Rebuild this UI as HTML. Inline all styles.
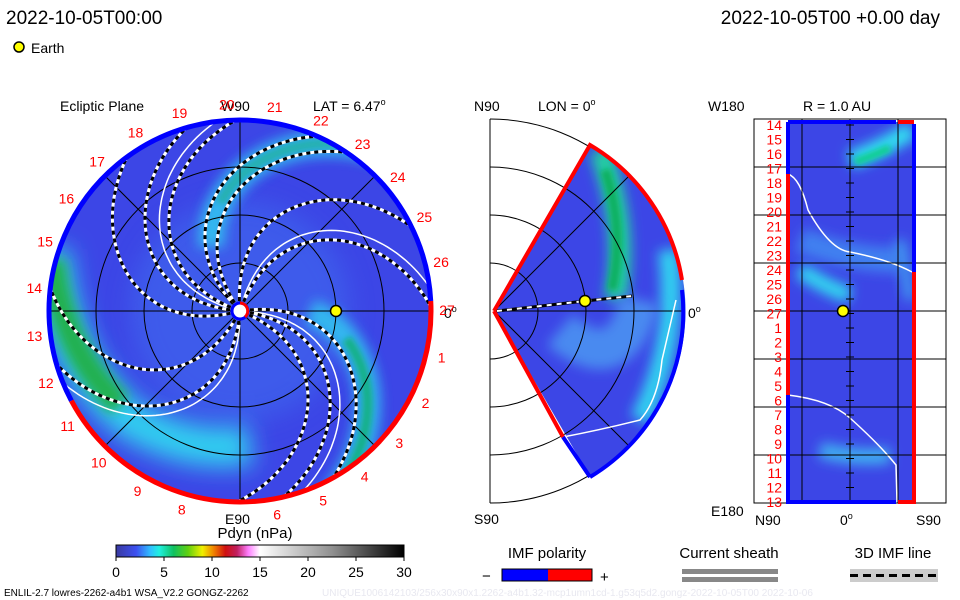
<!DOCTYPE html>
<html><head><meta charset="utf-8"><style>
body{margin:0;background:#fff;}
svg{display:block;font-family:"Liberation Sans",sans-serif;}
</style></head><body>
<svg id="s" width="960" height="600" viewBox="0 0 960 600">
<defs>
<filter id="bl" filterUnits="userSpaceOnUse" x="0" y="0" width="960" height="600"><feGaussianBlur stdDeviation="6"/></filter>
<filter id="bl2" filterUnits="userSpaceOnUse" x="0" y="0" width="960" height="600"><feGaussianBlur stdDeviation="3"/></filter>
<filter id="bl3" filterUnits="userSpaceOnUse" x="0" y="0" width="960" height="600"><feGaussianBlur stdDeviation="12"/></filter>
<clipPath id="diskClip"><circle cx="240" cy="311" r="191"/></clipPath>
<clipPath id="wedgeClip"><path d="M494,311 L590,145 A192,192 0 0 1 590,477 Z"/></clipPath>
<clipPath id="rectClip"><rect x="786" y="122" width="128" height="380"/></clipPath>
<linearGradient id="cbar" x1="0" x2="1">
<stop offset="0" stop-color="#3a3aa0"/><stop offset="0.07" stop-color="#3c50f0"/><stop offset="0.12" stop-color="#30c0ff"/><stop offset="0.15" stop-color="#20f0e0"/><stop offset="0.2" stop-color="#10c060"/><stop offset="0.25" stop-color="#60d010"/><stop offset="0.3" stop-color="#f0f000"/><stop offset="0.34" stop-color="#f08000"/><stop offset="0.38" stop-color="#d01010"/><stop offset="0.42" stop-color="#c02060"/><stop offset="0.46" stop-color="#ff80ff"/><stop offset="0.5" stop-color="#ffffff"/><stop offset="0.75" stop-color="#909090"/><stop offset="1" stop-color="#000"/>
</linearGradient>
</defs>

<text x="6" y="24" font-size="19">2022-10-05T00:00</text>
<text x="940" y="24" font-size="19" text-anchor="end">2022-10-05T00 +0.00 day</text>
<circle cx="19" cy="47" r="5" fill="#ff0" stroke="#000" stroke-width="1.5"/>
<text x="31" y="53" font-size="14">Earth</text>

<g>
<circle cx="240" cy="311" r="191" fill="#3c46e6"/>
<g clip-path="url(#diskClip)">
<circle cx="240" cy="311" r="110" fill="#4070f0" opacity="0.5" filter="url(#bl3)"/>
<path d="M50,250 Q58,360 130,420 Q190,455 250,445" stroke="#30d0f0" stroke-width="40" fill="none" filter="url(#bl3)"/>
<path d="M52,260 Q62,350 120,405" stroke="#20b050" stroke-width="26" fill="none" filter="url(#bl)"/>
</g>
<g clip-path="url(#diskClip)" id="diskBands"></g>
<g clip-path="url(#diskClip)" id="diskGrid" stroke="#000" stroke-width="1" fill="none">
<circle cx="240" cy="311" r="48"/><circle cx="240" cy="311" r="96"/><circle cx="240" cy="311" r="144"/>
<line x1="47" y1="311" x2="434" y2="311"/><line x1="240" y1="118" x2="240" y2="504"/>
<line x1="104" y1="175" x2="376" y2="447"/><line x1="104" y1="447" x2="376" y2="175"/>
</g>
<g clip-path="url(#diskClip)" id="diskArms"></g>
<g id="rim"></g>
<circle cx="240" cy="311" r="8" fill="#fff" stroke="#00f" stroke-width="3"/>
<path d="M240,303 A8,8 0 0 1 245,317" fill="none" stroke="#f00" stroke-width="3"/>
<circle cx="336" cy="311" r="5.5" fill="#ff0" stroke="#000" stroke-width="1.5"/>
<text x="60" y="111" font-size="14">Ecliptic Plane</text>
<text x="221" y="111" font-size="14">W90</text>
<text x="313" y="111" font-size="14">LAT = 6.47<tspan font-size="9" dy="-6">o</tspan></text>
<text x="444" y="318" font-size="14">0<tspan font-size="9" dy="-6">o</tspan></text>
<text x="225" y="524" font-size="14">E90</text>
<g id="dayLabels" fill="#f00" font-size="14" text-anchor="middle"></g>
</g>

<g>
<g fill="none" stroke="#000" stroke-width="1">
<line x1="490" y1="119" x2="490" y2="503"/>
<path d="M490,263 A48,48 0 0 1 490,359"/><path d="M490,215 A96,96 0 0 1 490,407"/>
<path d="M490,167 A144,144 0 0 1 490,455"/><path d="M490,119 A192,192 0 0 1 490,503"/>
</g>
<path d="M494,311 L590,145 A192,192 0 0 1 590,477 Z" fill="#3c46e6"/>
<g clip-path="url(#wedgeClip)">
<path d="M600,150 Q630,230 615,300" stroke="#20d0a0" stroke-width="22" fill="none" filter="url(#bl)"/>
<path d="M605,170 Q625,230 612,290" stroke="#10b060" stroke-width="10" fill="none" filter="url(#bl2)"/>
<path d="M668,250 Q680,340 640,420" stroke="#30d0f0" stroke-width="20" fill="none" filter="url(#bl)"/>
<path d="M560,330 Q620,380 640,300" stroke="#4a8af0" stroke-width="40" fill="none" filter="url(#bl)"/>
<g stroke="#000" stroke-width="1" fill="none">
<path d="M490,263 A48,48 0 0 1 490,359"/><path d="M490,215 A96,96 0 0 1 490,407"/><path d="M490,167 A144,144 0 0 1 490,455"/>
<line x1="490" y1="311" x2="683" y2="311"/><line x1="494" y1="311" x2="634" y2="171"/><line x1="494" y1="311" x2="634" y2="451"/>
</g>
<path d="M563,437 Q600,430 640,420 Q658,400 662,360 L676,300" stroke="#fff" stroke-width="1.5" fill="none"/>
</g>
<path d="M494,311 L590,145 A192,192 0 0 1 682,280" fill="none" stroke="#f00" stroke-width="4"/>
<path d="M682,290 A192,192 0 0 1 590,477" fill="none" stroke="#00f" stroke-width="4"/>
<path d="M494,311 L563,437" fill="none" stroke="#f00" stroke-width="4"/>
<path d="M563,437 L590,477" fill="none" stroke="#00f" stroke-width="4"/>
<path d="M497,311 L585,301 L632,296" stroke="#000" stroke-width="3" fill="none"/>
<path d="M497,311 L585,301 L632,296" stroke="#fff" stroke-width="2" stroke-dasharray="5 5" fill="none"/>
<circle cx="585" cy="301" r="5.5" fill="#ff0" stroke="#000" stroke-width="1.5"/>
<text x="474" y="111" font-size="14">N90</text>
<text x="538" y="111" font-size="14">LON = 0<tspan font-size="9" dy="-6">o</tspan></text>
<text x="688" y="318" font-size="14">0<tspan font-size="9" dy="-6">o</tspan></text>
<text x="474" y="524" font-size="14">S90</text>
</g>

<g>
<rect x="754" y="119" width="192" height="384" fill="none" stroke="#000"/>
<rect x="786" y="122" width="128" height="380" fill="#3c46e6"/>
<g clip-path="url(#rectClip)">
<path d="M850,160 Q880,150 912,130" stroke="#30e0f0" stroke-width="18" fill="none" filter="url(#bl)"/>
<path d="M855,162 Q875,155 890,148" stroke="#10d090" stroke-width="8" fill="none" filter="url(#bl2)"/>
<path d="M800,270 Q830,290 850,295" stroke="#30d8f0" stroke-width="16" fill="none" filter="url(#bl)"/>
<path d="M800,240 Q850,260 900,260" stroke="#4080f0" stroke-width="25" fill="none" filter="url(#bl)"/>
<path d="M820,450 Q860,460 890,455" stroke="#40b0f0" stroke-width="16" fill="none" filter="url(#bl)"/>
<path d="M900,240 L910,300" stroke="#40a0f0" stroke-width="10" fill="none" filter="url(#bl)"/>
<path d="M788,174 Q800,178 808,210 Q830,250 850,252 Q890,260 912,272" stroke="#fff" stroke-width="1.5" fill="none"/>
<path d="M788,395 Q830,400 850,418 Q880,445 896,465 L897,502" stroke="#fff" stroke-width="1.5" fill="none"/>
</g>
<g stroke="#000" stroke-width="1" id="rGrid"></g>
<path d="M788,122 L788,174 M788,395 L788,502 L896,502 M788,122 L896,122 M914,124 L914,272" stroke="#00f" stroke-width="4" fill="none"/>
<path d="M788,174 L788,395 M914,272 L914,502 L898,502 M898,122 L914,122" stroke="#f00" stroke-width="4" fill="none"/>
<circle cx="843" cy="311" r="5.5" fill="#ff0" stroke="#000" stroke-width="1.5"/>
<text x="708" y="111" font-size="14">W180</text>
<text x="803" y="111" font-size="14">R = 1.0 AU</text>
<text x="711" y="516" font-size="14">E180</text>
<text x="755" y="525" font-size="14">N90</text>
<text x="840" y="525" font-size="14">0<tspan font-size="9" dy="-6">o</tspan></text>
<text x="916" y="525" font-size="14">S90</text>
<g id="rLabels" fill="#f00" font-size="14" text-anchor="end"></g>
</g>

<g>
<text x="255" y="538" font-size="15" text-anchor="middle">Pdyn (nPa)</text>
<rect x="116" y="545" width="288" height="12" fill="url(#cbar)" stroke="#000"/>
<g id="cbTicks" font-size="14" text-anchor="middle"></g>
</g>

<g>
<text x="547" y="558" font-size="15" text-anchor="middle">IMF polarity</text>
<text x="482" y="581" font-size="15">−</text>
<rect x="502" y="569" width="46" height="12" fill="#00f"/>
<rect x="548" y="569" width="44" height="12" fill="#f00"/>
<rect x="502" y="569" width="90" height="12" fill="none" stroke="#000"/>
<text x="600" y="582" font-size="15">+</text>
</g>
<g>
<text x="729" y="558" font-size="15" text-anchor="middle">Current sheath</text>
<rect x="682" y="569" width="96" height="5" fill="#888"/><rect x="682" y="577" width="96" height="5" fill="#888"/>
</g>
<g>
<text x="893" y="558" font-size="15" text-anchor="middle">3D IMF line</text>
<rect x="850" y="569" width="88" height="13" fill="#ccc"/>
<line x1="850" y1="575.5" x2="938" y2="575.5" stroke="#000" stroke-width="3" stroke-dasharray="8 5"/>
</g>
<text x="4" y="596" font-size="10">ENLIL-2.7 lowres-2262-a4b1 WSA_V2.2 GONGZ-2262</text>
<text x="322" y="596" font-size="10" fill="#e8e8f0">UNIQUE1006142103/256x30x90x1.2262-a4b1.32-mcp1umn1cd-1.g53q5d2.gongz-2022-10-05T00   2022-10-06</text>
</svg>
<script>
const NS='http://www.w3.org/2000/svg';
const armStarts=[-8,8,22,-95,-70,95,118,165,185,200,225,-125];
const armWhite=[0,1,0,0,1,1,0,0,0,1,0,0];
const bandStarts=[-15,230];
const bandColors=['#10b070','#20b0a0'];
const dayNums=[19,20,21,22,23,24,25,26,27,1,2,3,4,5,6,7,8,9,10,11,12,13,14,15,16,17,18];
const cbTickVals=[0,5,10,15,20,25,30];
const rowLabels=[14,15,16,17,18,19,20,21,22,23,24,25,26,27,1,2,3,4,5,6,7,8,9,10,11,12,13];
const CX=240,CY=311,R=191;
function ang(t0,r){return (t0+0.15*r+0.0011*r*r)*Math.PI/180;}
function spiral(t0,r1,r2){let d='';for(let r=r1;r<=r2;r+=3){const a=ang(t0,r);d+=(d?'L':'M')+(CX+r*Math.cos(a)).toFixed(1)+','+(CY+r*Math.sin(a)).toFixed(1);}return d;}
function mk(tag,attrs,parent){const e=document.createElementNS(NS,tag);for(const k in attrs)e.setAttribute(k,attrs[k]);parent.appendChild(e);return e;}
function pt(deg,r){const a=deg*Math.PI/180;return (CX+r*Math.cos(a)).toFixed(2)+','+(CY+r*Math.sin(a)).toFixed(2);}
const rim=document.getElementById('rim');
const rr=mk('path',{d:'M'+pt(-3,R)+' A'+R+','+R+' 0 0 1 '+pt(152,R),fill:'none',stroke:'#f00','stroke-width':5},rim);


const rb=mk('path',{d:'M'+pt(152,R)+' A'+R+','+R+' 0 1 1 '+pt(-3,R),fill:'none',stroke:'#00f','stroke-width':5},rim);


const bands=document.getElementById('diskBands');
bandStarts.forEach((t,i)=>{
 const b=mk('path',{d:spiral(t,70,220),stroke:'#30c8f0',"stroke-width":26,fill:'none',filter:'url(#bl)',opacity:0.85},bands);
 
 
 const c=mk('path',{d:spiral(t,110,220),stroke:bandColors[i],"stroke-width":10,fill:'none',filter:'url(#bl2)',opacity:0.8},bands);
 
 
});
const arms=document.getElementById('diskArms');
armStarts.forEach((t,i)=>{
 const d=spiral(t,10,195);
 if(armWhite[i]){const w=mk('path',{d:spiral(t-6,14,195),stroke:'#fff',"stroke-width":1.5,fill:'none'},arms);
 
 }
 mk('path',{d:d,stroke:'#fff',"stroke-width":3,fill:'none'},arms);
 const a=mk('path',{d:d,stroke:'#000',"stroke-width":3,fill:'none',"stroke-dasharray":'4 4'},arms);
 
 
});
const dl=document.getElementById('dayLabels');
dayNums.forEach((n,i)=>{
 const a=(-107+i*(360/27))*Math.PI/180;
 if(n===7)return;
 const t=mk('text',{x:(CX+207*Math.cos(a)).toFixed(1),y:(CY+207*Math.sin(a)+5).toFixed(1)},dl);
 t.textContent=n;
 
 
});
const cb=document.getElementById('cbTicks');
cbTickVals.forEach(v=>{
 const x=116+v/30*288;
 mk('line',{x1:x,y1:557,x2:x,y2:561,stroke:'#000'},cb);
 const t=mk('text',{x:x,y:577},cb);t.textContent=v;
 
 
});
const rl=document.getElementById('rLabels');const rg=document.getElementById('rGrid');
rowLabels.forEach((n,i)=>{
 const y=125+i*(377/26);
 const t=mk('text',{x:782,y:y+5},rl);t.textContent=n;
 
 
 mk('line',{x1:846,y1:y,x2:854,y2:y,stroke:'#000'},rg);
});
[167,215,263,311,359,407,455].forEach(y=>mk('line',{x1:754,y1:y,x2:946,y2:y},rg));
[802,850,898].forEach(x=>mk('line',{x1:x,y1:119,x2:x,y2:503},rg));
</script>
</body></html>
